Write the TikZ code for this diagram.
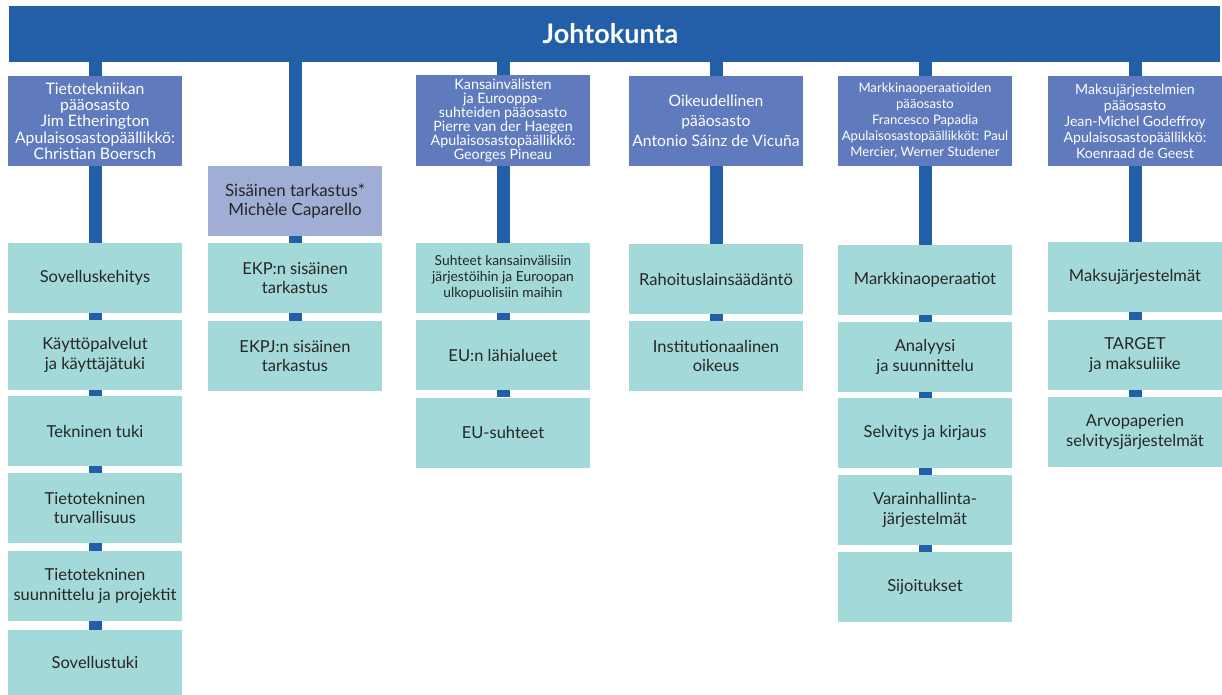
\documentclass[tikz,border=0pt]{standalone}
\usepackage{fontspec}
\setmainfont{Lato}
\usetikzlibrary{backgrounds}
\definecolor{barblue}{HTML}{235EA8}
\definecolor{headblue}{HTML}{5F7ABD}
\definecolor{auditblue}{HTML}{A0AED6}
\definecolor{tealbox}{HTML}{A4D9D9}
\definecolor{darktext}{HTML}{262626}
\begin{document}
\begin{tikzpicture}[x=1pt,y=-1pt,
  hd/.style={fill=headblue, text=white, minimum width=174pt, minimum height=90pt, inner sep=0pt, align=center},
  tl/.style={fill=tealbox, text=darktext, minimum width=174pt, minimum height=70pt, inner sep=0pt, align=center, font=\fontsize{16.5}{19.8}\selectfont},
  conn/.style={draw=barblue, line width=13pt}]
\useasboundingbox (0,0) rectangle (1222,695);
% top bar
\node[fill=barblue, text=white, minimum width=1211pt, minimum height=56pt, inner sep=0pt, font=\fontsize{27}{30}\selectfont\bfseries] (top) at (614.5,34) {Johtokunta\hspace*{8pt}};
% headers
\node[hd, font=\fontsize{15.8}{16.3}\selectfont] (h1) at (95,121) {Tietotekniikan\\pääosasto\\Jim Etherington\\Apulaisosastopäällikkö:\\Christian Boersch};
\node[fill=auditblue, text=darktext, minimum width=174pt, minimum height=70pt, inner sep=0pt, align=center, font=\fontsize{16.9}{19.5}\selectfont] (h2) at (295,201) {Sisäinen tarkastus*\\Michèle Caparello};
\node[hd, minimum height=91pt, font=\fontsize{14.3}{14}\selectfont] (h3) at (503,120.5) {Kansainvälisten\\ja Eurooppa-\\suhteiden pääosasto\\Pierre van der Haegen\\Apulaisosastopäällikkö:\\Georges Pineau};
\node[hd, font=\fontsize{15.7}{20}\selectfont] (h4) at (716,121) {Oikeudellinen\\pääosasto\\Antonio Sáinz de Vicuña};
\node[hd, font=\fontsize{13.1}{16}\selectfont] (h5) at (925,121) {Markkinaoperaatioiden\\pääosasto\\Francesco Papadia\\Apulaisosastopäällikköt: Paul\\Mercier, Werner Studener};
\node[hd, font=\fontsize{14.1}{16}\selectfont] (h6) at (1135,121) {Maksujärjestelmien\\pääosasto\\Jean-Michel Godeffroy\\Apulaisosastopäällikkö:\\Koenraad de Geest};
% column 1
\node[tl] (a1) at (95,278) {Sovelluskehitys};
\node[tl] (a2) at (95,355) {Käyttöpalvelut\\ja käyttäjätuki};
\node[tl] (a3) at (95,431) {Tekninen tuki};
\node[tl] (a4) at (95,508) {Tietotekninen\\turvallisuus};
\node[tl] (a5) at (95,586) {Tietotekninen\\suunnittelu ja projektit};
\node[tl, minimum height=65pt] (a6) at (95,662.5) {Sovellustuki};
% column 2
\node[tl] (b1) at (295,278) {EKP:n sisäinen\\tarkastus};
\node[tl] (b2) at (295,356) {EKPJ:n sisäinen\\tarkastus};
% column 3
\node[tl, font=\fontsize{13.8}{16}\selectfont] (c1) at (503,278) {Suhteet kansainvälisiin\\järjestöihin ja Euroopan\\ulkopuolisiin maihin};
\node[tl] (c2) at (503,355) {EU:n lähialueet};
\node[tl] (c3) at (503,432.5) {EU-suhteet};
% column 4
\node[tl] (d1) at (716,279) {Rahoituslainsäädäntö};
\node[tl] (d2) at (716,356) {Institutionaalinen\\oikeus};
% column 5
\node[tl] (e1) at (925,280) {Markkinaoperaatiot};
\node[tl] (e2) at (925,357) {Analyysi\\ja suunnittelu};
\node[tl] (e3) at (925,433) {Selvitys ja kirjaus};
\node[tl] (e4) at (925,510) {Varainhallinta-\\järjestelmät};
\node[tl] (e5) at (925,587) {Sijoitukset};
% column 6
\node[tl] (f1) at (1135,277) {Maksujärjestelmät};
\node[tl] (f2) at (1135,355) {TARGET\\ja maksuliike};
\node[tl] (f3) at (1135,432) {Arvopaperien\\selvitysjärjestelmät};
% connectors
\begin{scope}[on background layer]
\draw[conn] (top.south -| h1) -- (h1) -- (a1) -- (a2) -- (a3) -- (a4) -- (a5) -- (a6);
\draw[conn] (top.south -| h2) -- (h2) -- (b1) -- (b2);
\draw[conn] (top.south -| h3) -- (h3) -- (c1) -- (c2) -- (c3);
\draw[conn] (top.south -| h4) -- (h4) -- (d1) -- (d2);
\draw[conn] (top.south -| h5) -- (h5) -- (e1) -- (e2) -- (e3) -- (e4) -- (e5);
\draw[conn] (top.south -| h6) -- (h6) -- (f1) -- (f2) -- (f3);
\end{scope}
\end{tikzpicture}
\end{document}
